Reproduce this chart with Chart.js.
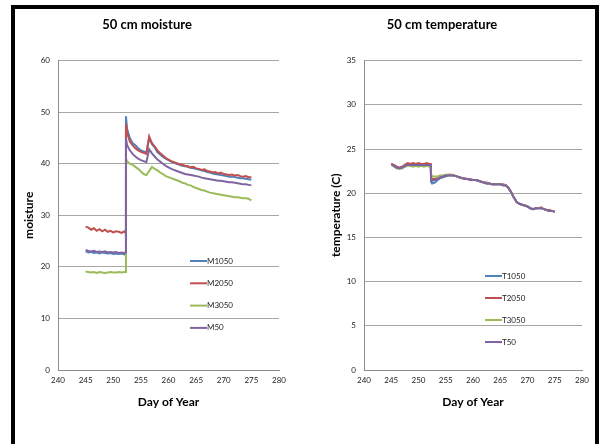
<!DOCTYPE html>
<html>
<head>
<meta charset="utf-8">
<script src="https://cdn.jsdelivr.net/npm/chart.js@4.4.1/dist/chart.umd.min.js"></script>
<style>
    body { margin: 0; background: #fff; }
    #frame {
        position: absolute; left: 11px; top: 5px; width: 580px; height: 460px;
        border-top: 4px solid #000; border-left: 4px solid #000; border-right: 4px solid #000;
    }
    .box { position: absolute; top: 9px; height: 435px; }
    #box-left { left: 15px; width: 282px; }
    #box-right { left: 300px; width: 295px; }
</style>
</head>
<body>
<div id="frame"></div>
<div class="box" id="box-left"><canvas id="moistureChart"></canvas></div>
<div class="box" id="box-right"><canvas id="tempChart"></canvas></div>
<script>
// Day of year for every reading (same for both charts)
const days = [245, 245.5, 246, 246.5, 247, 247.5, 248, 248.5, 249, 249.5, 250, 250.5, 251, 251.5, 252, 252.25,
    252.3, 252.5, 253, 253.5, 254, 254.5, 255, 255.5, 256, 256.5, 257, 257.5, 258, 258.5, 259, 259.5,
    260, 260.5, 261, 261.5, 262, 262.5, 263, 263.5, 264, 264.5, 265, 265.5, 266, 266.5, 267, 267.5,
    268, 268.5, 269, 269.5, 270, 270.5, 271, 271.5, 272, 272.5, 273, 273.5, 274, 274.5, 275];

// Moisture series
const m1050 = [23.0, 22.8, 22.9, 22.7, 22.8, 22.6, 22.8, 22.7, 22.6, 22.7, 22.5, 22.6, 22.5, 22.6, 22.4, 22.5,
    49.2, 46.8, 45.0, 44.0, 43.6, 43.0, 42.6, 42.4, 42.2, 45.0, 43.8, 43.2, 42.2, 41.8, 41.3, 41.0,
    40.7, 40.4, 40.2, 40.0, 39.8, 39.6, 39.5, 39.4, 39.2, 39.1, 39.0, 38.9, 38.7, 38.6, 38.4, 38.3,
    38.1, 38.0, 37.9, 37.8, 37.7, 37.6, 37.5, 37.5, 37.4, 37.3, 37.2, 37.2, 37.1, 37.0, 36.9];
const m2050 = [27.8, 27.6, 27.2, 27.5, 27.0, 27.3, 26.9, 27.2, 26.8, 27.0, 26.7, 26.9, 26.8, 26.6, 26.9, 26.5,
    47.8, 46.0, 44.3, 43.6, 43.0, 42.6, 42.3, 42.1, 41.9, 45.3, 44.0, 43.3, 42.6, 42.0, 41.6, 41.1,
    40.8, 40.5, 40.3, 40.1, 39.9, 39.8, 39.6, 39.5, 39.3, 39.4, 39.1, 39.0, 38.8, 38.9, 38.6, 38.5,
    38.3, 38.4, 38.1, 38.3, 38.0, 37.9, 37.8, 37.9, 37.7, 37.8, 37.6, 37.5, 37.6, 37.4, 37.4];
const m3050 = [19.1, 19.0, 18.9, 19.0, 18.8, 19.0, 18.9, 18.8, 18.9, 19.0, 18.9, 18.9, 19.0, 18.9, 19.0, 19.0,
    41.0, 40.5, 40.0, 39.8, 39.4, 39.0, 38.5, 38.0, 37.8, 38.6, 39.4, 39.0, 38.7, 38.3, 38.0, 37.6,
    37.4, 37.2, 37.0, 36.8, 36.6, 36.3, 36.2, 35.9, 35.8, 35.5, 35.3, 35.1, 34.9, 34.8, 34.6, 34.4,
    34.3, 34.2, 34.1, 34.0, 33.9, 33.8, 33.7, 33.6, 33.5, 33.5, 33.4, 33.3, 33.3, 33.2, 32.9];
const m50 = [23.3, 23.1, 23.0, 23.1, 22.9, 23.0, 22.9, 23.0, 22.8, 22.9, 22.8, 22.9, 22.7, 22.8, 22.7, 22.8,
    45.0, 43.6, 42.6, 41.9, 41.4, 41.0, 40.7, 40.5, 40.3, 42.8, 42.0, 41.4, 40.8, 40.4, 40.0, 39.6,
    39.3, 39.0, 38.8, 38.6, 38.4, 38.2, 38.0, 37.9, 37.8, 37.7, 37.6, 37.5, 37.3, 37.2, 37.1, 37.0,
    36.9, 36.8, 36.7, 36.7, 36.6, 36.5, 36.4, 36.4, 36.3, 36.2, 36.1, 36.0, 36.0, 35.9, 35.8];

// Temperature series
const t1050 = [23.3, 23.1, 22.9, 22.8, 22.9, 23.0, 23.2, 23.2, 23.1, 23.2, 23.1, 23.2, 23.1, 23.2, 23.2, 23.1,
    21.3, 21.1, 21.2, 21.5, 21.7, 21.8, 21.9, 22.0, 22.0, 22.0, 21.9, 21.8, 21.7, 21.6, 21.6, 21.5,
    21.5, 21.5, 21.4, 21.3, 21.2, 21.1, 21.1, 21.0, 21.0, 21.0, 21.0, 20.9, 20.9, 20.6, 20.1, 19.5,
    19.0, 18.8, 18.7, 18.6, 18.5, 18.3, 18.2, 18.3, 18.3, 18.3, 18.2, 18.1, 18.0, 18.0, 17.9];
const t2050 = [23.3, 23.2, 23.0, 22.9, 23.0, 23.2, 23.4, 23.3, 23.4, 23.3, 23.4, 23.3, 23.3, 23.4, 23.3, 23.3,
    21.8, 21.6, 21.6, 21.7, 21.8, 21.9, 22.0, 22.1, 22.1, 22.0, 21.9, 21.8, 21.7, 21.7, 21.6, 21.6,
    21.5, 21.5, 21.4, 21.3, 21.2, 21.2, 21.1, 21.0, 21.0, 21.0, 21.0, 21.0, 20.9, 20.6, 20.1, 19.5,
    19.0, 18.8, 18.7, 18.6, 18.5, 18.3, 18.2, 18.3, 18.3, 18.4, 18.2, 18.1, 18.1, 18.0, 17.9];
const t3050 = [23.2, 23.0, 22.8, 22.8, 22.8, 23.0, 23.1, 23.1, 23.0, 23.1, 23.0, 23.1, 23.0, 23.1, 23.0, 23.0,
    22.2, 21.9, 21.9, 21.9, 22.0, 22.0, 22.1, 22.1, 22.1, 22.0, 21.9, 21.8, 21.7, 21.6, 21.6, 21.5,
    21.5, 21.5, 21.4, 21.3, 21.2, 21.1, 21.1, 21.0, 21.0, 21.0, 21.0, 20.9, 20.9, 20.6, 20.1, 19.5,
    19.0, 18.8, 18.7, 18.6, 18.5, 18.3, 18.2, 18.3, 18.3, 18.3, 18.2, 18.1, 18.0, 18.0, 17.9];
const t50 = [23.3, 23.1, 22.9, 22.8, 22.9, 23.1, 23.2, 23.2, 23.2, 23.2, 23.2, 23.2, 23.2, 23.2, 23.2, 23.2,
    21.6, 21.4, 21.5, 21.6, 21.8, 21.9, 22.0, 22.0, 22.0, 22.0, 21.9, 21.8, 21.7, 21.6, 21.6, 21.5,
    21.5, 21.5, 21.4, 21.3, 21.2, 21.1, 21.1, 21.0, 21.0, 21.0, 21.0, 20.9, 20.9, 20.6, 20.1, 19.5,
    19.0, 18.8, 18.7, 18.6, 18.5, 18.3, 18.2, 18.3, 18.3, 18.3, 18.2, 18.1, 18.0, 18.0, 17.9];

const moistureLabels = ['M1050', 'M2050', 'M3050', 'M50'];
const tempLabels = ['T1050', 'T2050', 'T3050', 'T50'];
const seriesColors = ['#4F81BD', '#C0504D', '#9BBB59', '#8064A2'];

Chart.defaults.font.family = 'Lato, "Liberation Sans", sans-serif';
Chart.defaults.color = '#222';

// Excel-style legend drawn inside the plot area
const insideLegend = {
    id: 'insideLegend',
    afterDraw(chart, args, opts) {
        const ctx = chart.ctx;
        ctx.save();
        ctx.font = '8px Lato, sans-serif';
        ctx.textBaseline = 'middle';
        ctx.textAlign = 'left';
        chart.data.datasets.forEach((ds, i) => {
            const y = opts.y + i * opts.gap;
            ctx.strokeStyle = ds.borderColor;
            ctx.lineWidth = 2;
            ctx.beginPath();
            ctx.moveTo(opts.x, y);
            ctx.lineTo(opts.x + 17, y);
            ctx.stroke();
            ctx.fillStyle = '#222';
            ctx.fillText(ds.label, opts.x + 17, y);
        });
        ctx.restore();
    }
};

function makeDatasets(labels, series) {
    return series.map((vals, i) => ({
        label: labels[i],
        data: vals.map((v, j) => ({ x: days[j], y: v })),
        borderColor: seriesColors[i],
        backgroundColor: seriesColors[i],
        borderWidth: 2,
        pointRadius: 0,
        tension: 0,
        order: 4 - i
    }));
}

function makeOptions(cfg) {
    return {
        responsive: true,
        maintainAspectRatio: false,
        animation: false,
        layout: { padding: { left: 0, right: cfg.padRight, top: 0, bottom: 30 } },
        plugins: {
            legend: { display: false },
            tooltip: { enabled: false },
            title: {
                display: true,
                text: cfg.title,
                font: { size: 13, weight: 'bold' },
                color: '#000',
                padding: { top: 8, bottom: 28 }
            },
            insideLegend: cfg.legend
        },
        scales: {
            x: {
                type: 'linear',
                min: 240,
                max: 280,
                ticks: { stepSize: 5, font: { size: 8 }, padding: 6, maxRotation: 0 },
                grid: { display: false, drawTicks: false },
                border: { display: true, color: '#8c8c8c', width: 1 },
                title: {
                    display: true,
                    text: 'Day of Year',
                    font: { size: 12, weight: 'bold' },
                    color: '#000',
                    padding: { top: 0, bottom: 5 }
                },
                afterFit(scale) { scale.height = 44; }
            },
            y: {
                min: 0,
                max: cfg.yMax,
                ticks: { stepSize: cfg.yStep, font: { size: 8 }, padding: 8 },
                grid: { color: '#a6a6a6', drawTicks: false },
                border: { display: true, color: '#8c8c8c', width: 1 },
                title: {
                    display: true,
                    text: cfg.yTitle,
                    font: { size: 12, weight: 'bold' },
                    color: '#000',
                    padding: { top: cfg.yTitlePad, bottom: 0 }
                },
                afterFit(scale) { scale.width = cfg.yWidth; }
            }
        }
    };
}

new Chart(document.getElementById('moistureChart'), {
    type: 'line',
    data: { datasets: makeDatasets(moistureLabels, [m1050, m2050, m3050, m50]) },
    options: makeOptions({
        title: '50 cm moisture', yTitle: 'moisture', yMax: 60, yStep: 10,
        yWidth: 43, yTitlePad: 7, padRight: 18,
        legend: { x: 175, y: 252, gap: 22.3 }
    }),
    plugins: [insideLegend]
});

new Chart(document.getElementById('tempChart'), {
    type: 'line',
    data: { datasets: makeDatasets(tempLabels, [t1050, t2050, t3050, t50]) },
    options: makeOptions({
        title: '50 cm temperature', yTitle: 'temperature (C)', yMax: 35, yStep: 5,
        yWidth: 64, yTitlePad: 29, padRight: 11,
        legend: { x: 185, y: 267, gap: 22 }
    }),
    plugins: [insideLegend]
});
</script>
</body>
</html>
